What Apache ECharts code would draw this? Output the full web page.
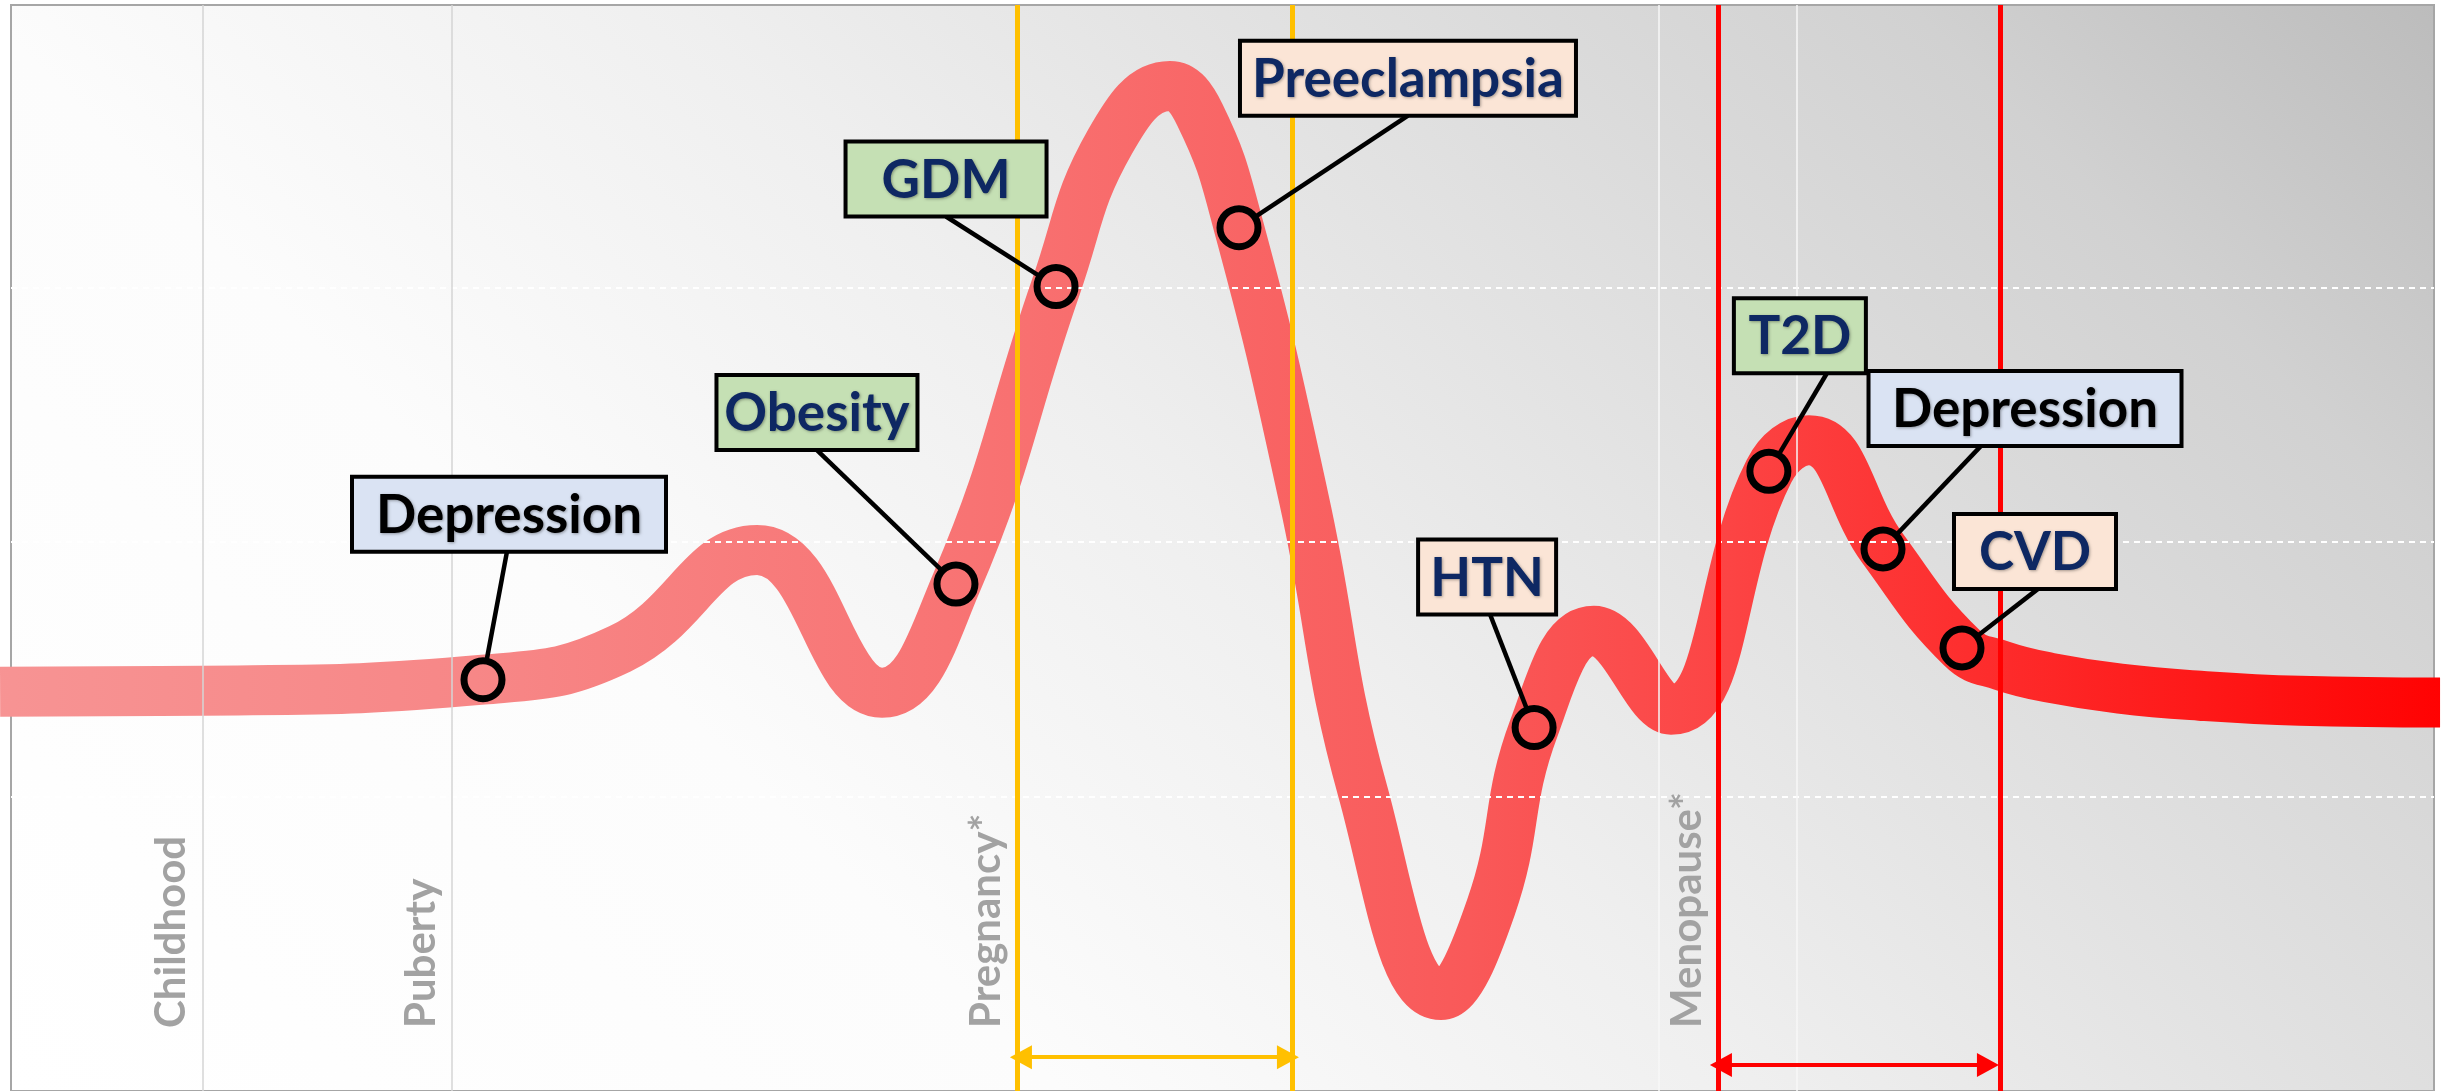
<!DOCTYPE html>
<html>
<head>
<meta charset="utf-8">
<title>Risk across the female life course</title>
<script src="https://cdn.jsdelivr.net/npm/echarts@6/dist/echarts.min.js"></script>
<style>
  html, body { margin: 0; padding: 0; background: #ffffff; }
  #main { width: 2443px; height: 1091px; }
</style>
</head>
<body>
<div id="main"></div>
<script>
// risk curve over the life course (x: life course position, y: relative risk)
const curveX = [-0.45, 7.92, 19.48, 25.13, 30.79, 35.95, 39.0, 43.13, 45.36, 47.83, 49.07, 50.68, 53.36, 55.8, 59.02, 61.08, 62.86, 65.33, 68.51, 72.55, 74.2, 77.26, 80.52, 82.17, 84.15, 87.04, 90.34, 94.47, 100.25];
const curveY = [14.12, 14.16, 14.59, 15.8, 19.69, 14.08, 18.35, 30.04, 35.73, 37.92, 36.78, 32.35, 21.69, 10.16, 2.2, 5.65, 12.71, 16.51, 13.41, 22.78, 24.0, 19.73, 15.84, 15.14, 14.67, 14.24, 13.96, 13.76, 13.69];

// conditions marked on the curve
const riskNames = ['Depression', 'Obesity', 'GDM', 'Preeclampsia', 'HTN', 'T2D', 'Depression', 'CVD'];
const riskX = [19.48, 39.0, 43.13, 50.68, 62.86, 72.55, 77.26, 80.52];
const riskY = [14.59, 18.35, 30.04, 32.35, 12.71, 22.78, 19.73, 15.84];
const riskGroup = ['mental', 'metabolic', 'metabolic', 'vascular', 'vascular', 'metabolic', 'mental', 'vascular'];

// life stages
const stageNames = ['Childhood', 'Puberty', 'Pregnancy*', 'Menopause*'];
const stageX = [7.92, 18.2, 41.52, 70.45];
const windowEndX = [52.87, 82.09];          // end of pregnancy / menopause windows
const pregnancyWindow = [41.68, 52.7];
const menopauseWindow = [70.57, 81.59];
const extraGridX = [68.0, 73.7];
const gridY = [10, 20, 30];

// label box placement, pixels relative to the marker (box bottom centre + leader attach shift)
const boxLayout = [
  { dx: 26, dy: -128, w: 314, ax: -2 },
  { dx: -139, dy: -134, w: 201, ax: 0 },
  { dx: -110, dy: -70, w: 201, ax: 0 },
  { dx: 169, dy: -112, w: 336, ax: 0 },
  { dx: -47, dy: -113, w: 138, ax: 3 },
  { dx: 31, dy: -98, w: 132, ax: 27 },
  { dx: 142, dy: -103, w: 313, ax: -44 },
  { dx: 73, dy: -59, w: 162, ax: 3 }
];
const boxFill = { mental: '#dae3f3', metabolic: '#c5e0b4', vascular: '#fbe5d6' };
const boxInk = { mental: '#000000', metabolic: '#0e2863', vascular: '#0e2863' };

const chart = echarts.init(document.getElementById('main'));

const stageColors = ['#d4d4d4', '#d4d4d4', '#ffc000', '#ff0000'];
const stageWidths = [1.5, 1.5, 5, 5];

const vLines = [];
extraGridX.forEach(x => vLines.push({ xAxis: x, lineStyle: { color: '#f7f7f7', width: 1.5, type: 'solid' }, label: { show: false } }));
stageX.forEach((x, i) => vLines.push({
  xAxis: x,
  lineStyle: { color: stageColors[i], width: stageWidths[i], type: 'solid' },
  label: {
    show: true,
    formatter: stageNames[i],
    position: 'insideStartTop',
    distance: [63, 10],
    color: '#a2a2a2',
    fontFamily: 'Lato',
    fontWeight: 'bold',
    fontSize: 42
  }
}));
windowEndX.forEach((x, i) => vLines.push({
  xAxis: x,
  lineStyle: { color: i === 0 ? '#ffc000' : '#ff0000', width: 5, type: 'solid' },
  label: { show: false }
}));

const hLines = gridY.map(y => ({
  yAxis: y,
  lineStyle: { color: '#ffffff', width: 2, type: [6, 5] },
  label: { show: false }
}));

const option = {
  animation: false,
  grid: {
    left: 11, right: 9, top: 5, bottom: -2,
    show: true,
    borderColor: '#a6a6a6',
    borderWidth: 2,
    backgroundColor: new echarts.graphic.LinearGradient(11, 1093, 1766.5, -662.5, [
      { offset: 0, color: '#ffffff' },
      { offset: 0.3, color: '#fcfcfc' },
      { offset: 0.5, color: '#efefef' },
      { offset: 0.7, color: '#dedede' },
      { offset: 0.85, color: '#d1d1d1' },
      { offset: 1, color: '#bcbcbc' }
    ], true)
  },
  xAxis: { type: 'value', min: 0, max: 100, show: false },
  yAxis: { type: 'value', min: -1.57, max: 41.1, show: false },
  series: [
    {
      // guides: grid lines and life stage lines
      type: 'line',
      data: [],
      z: 1,
      silent: true,
      markLine: {
        silent: true,
        symbol: ['none', 'none'],
        data: hLines.concat(vLines)
      }
    },
    {
      // window arrows
      type: 'line',
      data: [],
      z: 1,
      silent: true,
      markLine: {
        silent: true,
        symbol: ['triangle', 'triangle'],
        symbolSize: [24, 22],
        label: { show: false },
        data: [
          [
            { coord: [pregnancyWindow[0], -0.24], lineStyle: { color: '#ffc000', width: 4, type: 'solid' } },
            { coord: [pregnancyWindow[1], -0.24] }
          ],
          [
            { coord: [menopauseWindow[0], -0.55], lineStyle: { color: '#ff0000', width: 4, type: 'solid' } },
            { coord: [menopauseWindow[1], -0.55] }
          ]
        ]
      }
    },
    {
      type: 'line',
      data: curveX.map((x, i) => [x, curveY[i]]),
      smooth: 0.45,
      showSymbol: false,
      symbol: 'none',
      clip: false,
      z: 3,
      silent: true,
      lineStyle: {
        width: 50,
        cap: 'butt',
        join: 'round',
        color: new echarts.graphic.LinearGradient(0, 0, 1, 0, [
          { offset: 0, color: '#f79494' },
          { offset: 0.2, color: '#f78787' },
          { offset: 0.4, color: '#f87373' },
          { offset: 0.6, color: '#f95959' },
          { offset: 0.7, color: '#fc4545' },
          { offset: 0.8, color: '#fd2e2e' },
          { offset: 1, color: '#ff0000' }
        ])
      }
    },
    {
      type: 'custom',
      z: 5,
      silent: true,
      data: riskNames.map((n, i) => [riskX[i], riskY[i], i]),
      renderItem: function (params, api) {
        const i = api.value(2);
        const c = api.coord([api.value(0), api.value(1)]);
        const L = boxLayout[i];
        const cx = c[0] + L.dx;
        const bottom = c[1] + L.dy;
        const ax = cx + L.ax;
        const ddx = ax - c[0], ddy = bottom - c[1];
        const len = Math.sqrt(ddx * ddx + ddy * ddy);
        const r = 19;
        const g = riskGroup[i];
        return {
          type: 'group',
          children: [
            {
              type: 'line',
              shape: { x1: c[0] + ddx / len * r, y1: c[1] + ddy / len * r, x2: ax, y2: bottom },
              style: { stroke: '#000000', lineWidth: 4.5 }
            },
            {
              type: 'rect',
              shape: { x: cx - L.w / 2, y: bottom - 75, width: L.w, height: 75 },
              style: { fill: boxFill[g], stroke: '#000000', lineWidth: 4 }
            },
            {
              type: 'text',
              style: {
                text: riskNames[i],
                x: cx,
                y: bottom - 36,
                align: 'center',
                verticalAlign: 'middle',
                fill: boxInk[g],
                font: 'bold 53px Lato',
                textShadowColor: 'rgba(0,0,0,0.35)',
                textShadowBlur: 3,
                textShadowOffsetX: 1,
                textShadowOffsetY: 1
              }
            },
            {
              type: 'circle',
              shape: { cx: c[0], cy: c[1], r: r },
              style: { fill: 'none', stroke: '#000000', lineWidth: 7 }
            }
          ]
        };
      }
    }
  ]
};

chart.setOption(option);
</script>
</body>
</html>
